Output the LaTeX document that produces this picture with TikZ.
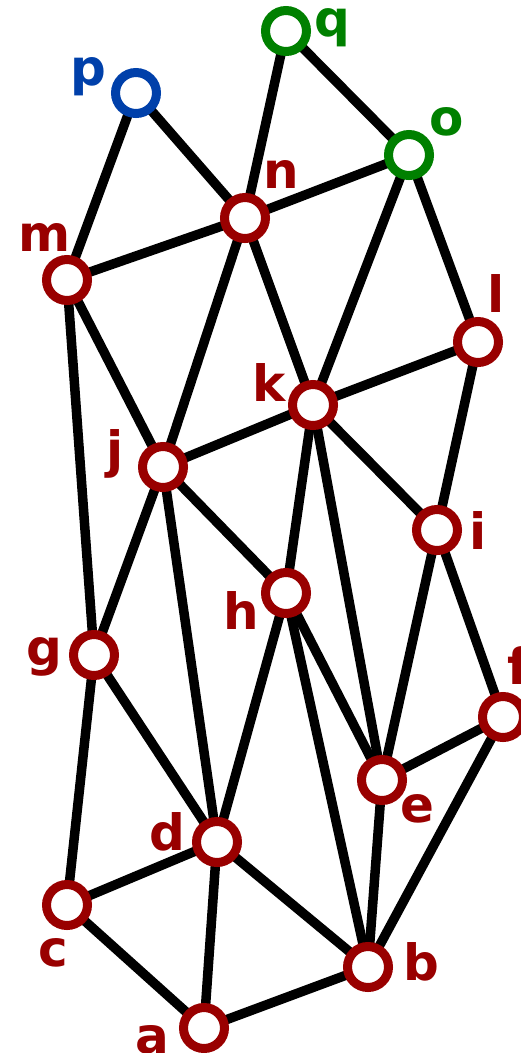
\documentclass[tikz,border=0pt]{standalone}
\usepackage{fontspec}
\setmainfont{DejaVu Sans}
\usetikzlibrary{backgrounds}
\definecolor{nred}{RGB}{153,0,0}
\definecolor{ngreen}{RGB}{0,128,0}
\definecolor{nblue}{RGB}{0,64,170}
\tikzset{
  vtx/.style={circle,draw=nred,fill=white,line width=9pt,minimum size=41pt,inner sep=0pt},
  gvtx/.style={vtx,draw=ngreen},
  bvtx/.style={vtx,draw=nblue},
  lbl/.style={anchor=center,inner sep=0pt,text=nred,font=\fontsize{50}{60}\selectfont\bfseries},
  glbl/.style={lbl,text=ngreen},
  blbl/.style={lbl,text=nblue},
  edge/.style={line width=9.5pt,black}
}
\begin{document}
\begin{tikzpicture}[x=1pt,y=-1pt]
\useasboundingbox (0,0) rectangle (521,1053);
% vertices
\node[gvtx] (q) at (286,31) {};
\node[bvtx] (p) at (136,93) {};
\node[gvtx] (o) at (409,155) {};
\node[vtx] (n) at (245,218) {};
\node[vtx] (m) at (67,280) {};
\node[vtx] (l) at (478,342) {};
\node[vtx] (k) at (313,405) {};
\node[vtx] (j) at (163,467) {};
\node[vtx] (i) at (437,530) {};
\node[vtx] (h) at (286,593) {};
\node[vtx] (g) at (94,655) {};
\node[vtx] (f) at (503,717) {};
\node[vtx] (e) at (382,780) {};
\node[vtx] (d) at (217,842) {};
\node[vtx] (c) at (67,905) {};
\node[vtx] (b) at (368,967) {};
\node[vtx] (a) at (204,1028) {};
% labels
\node[glbl] (lq) at (332,28) {q};
\node[blbl] (lp) at (88,77) {p};
\node[glbl] (lo) at (447,122) {o};
\node[lbl] (ln) at (281,174) {n};
\node[lbl] (lm) at (45,237) {m};
\node[lbl] (ll) at (496,293) {l};
\node[lbl] (lk) at (269,382) {k};
\node[lbl] (lj) at (115,454) {j};
\node[lbl] (li) at (478,530) {i};
\node[lbl] (lh) at (241,610) {h};
\node[lbl] (lg) at (44,657) {g};
\node[lbl] (lf) at (518,665) {f};
\node[lbl] (le) at (417,809) {e};
\node[lbl] (ld) at (167,832) {d};
\node[lbl] (lc) at (53,953) {c};
\node[lbl] (lb) at (421,962) {b};
\node[lbl] (la) at (152,1040) {a};
% edges
\begin{scope}[on background layer]
\foreach \u/\v in {p/m,p/n,q/n,q/o,o/n,o/k,o/l,n/m,n/j,n/k,m/j,m/g,l/k,l/i,k/j,k/h,k/e,k/i,j/g,j/d,j/h,i/e,i/f,h/d,h/e,h/b,g/c,g/d,f/e,f/b,e/b,d/c,d/a,d/b,c/a,a/b}
  \draw[edge] (\u.center) -- (\v.center);
\end{scope}
\end{tikzpicture}
\end{document}
